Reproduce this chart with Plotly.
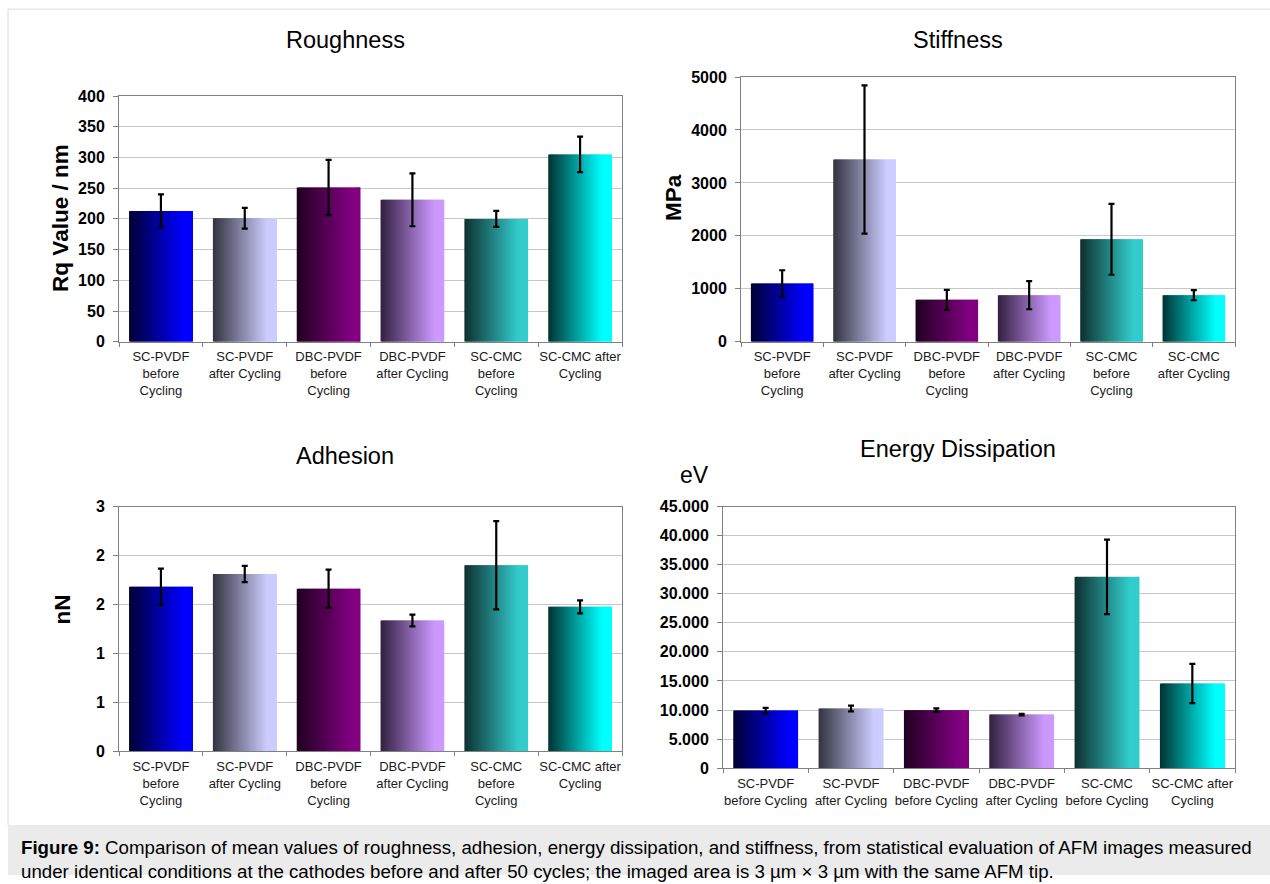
import plotly.graph_objects as go

# ---------------- data ----------------
labels_rough = ["SC-PVDF<br>before<br>Cycling", "SC-PVDF<br>after Cycling", "DBC-PVDF<br>before<br>Cycling",
                "DBC-PVDF<br>after Cycling", "SC-CMC<br>before<br>Cycling", "SC-CMC after<br>Cycling"]
labels_stiff = ["SC-PVDF<br>before<br>Cycling", "SC-PVDF<br>after Cycling", "DBC-PVDF<br>before<br>Cycling",
                "DBC-PVDF<br>after Cycling", "SC-CMC<br>before<br>Cycling", "SC-CMC<br>after Cycling"]
labels_adh = labels_rough
labels_energy = ["SC-PVDF<br>before Cycling", "SC-PVDF<br>after Cycling", "DBC-PVDF<br>before Cycling",
                 "DBC-PVDF<br>after Cycling", "SC-CMC<br>before Cycling", "SC-CMC after<br>Cycling"]

roughness = [213, 201, 251, 231, 200, 305]
roughness_err = [27, 17, 45, 43, 13, 29]

stiffness = [1100, 3442, 791, 879, 1935, 879]
stiffness_err = [250, 1400, 190, 265, 670, 95]

adhesion = [1.68, 1.81, 1.66, 1.335, 1.90, 1.475]
adhesion_err = [0.185, 0.083, 0.195, 0.06, 0.45, 0.066]

energy = [9917, 10261, 9975, 9229, 32905, 14561]
energy_err = [450, 500, 300, 130, 6400, 3380]

adh_tickvals = [0, 0.5, 1, 1.5, 2, 2.5]
adh_ticktext = ["0", "1", "1", "2", "2", "3"]
energy_tickvals = [0, 5000, 10000, 15000, 20000, 25000, 30000, 35000, 40000, 45000]
energy_ticktext = ["0", "5.000", "10.000", "15.000", "20.000", "25.000", "30.000", "35.000", "40.000", "45.000"]

# gradient colours per category: (dark left, bright right)
dark_cols = [(0, 0, 51), (51, 51, 64), (32, 0, 32), (51, 32, 64), (15, 48, 48), (0, 51, 51)]
bright_cols = [(0, 0, 255), (204, 204, 255), (128, 0, 128), (204, 153, 255), (51, 204, 204), (0, 255, 255)]

# ---------------- layout helpers ----------------
W, H = 1270, 884
FONT = "Liberation Sans, Arial, sans-serif"
VS, VO = 0.982, 8.0   # observed vertical mapping of the capture


def px(x):
    return x / W


def py(y):
    return 1 - (y / VS - VO) / H


panels = [
    # (values, errs, labels, xpx, ypx, yrange, tickvals, ticktext)
    (roughness, roughness_err, labels_rough, (119, 622), (96, 342), (0, 400), list(range(0, 401, 50)), None),
    (stiffness, stiffness_err, labels_stiff, (741, 1235), (77, 342), (0, 5000), list(range(0, 5001, 1000)), None),
    (adhesion, adhesion_err, labels_adh, (119, 622), (507, 752), (0, 2.5), adh_tickvals, adh_ticktext),
    (energy, energy_err, labels_energy, (723, 1235), (507, 769), (0, 45000), energy_tickvals, energy_ticktext),
]

fig = go.Figure()

NS = 40
BW = 0.76


def mix(a, b, t):
    return "rgb(%d,%d,%d)" % tuple(round(a[i] + (b[i] - a[i]) * t) for i in range(3))


for k, (vals, errs, labels, xr, yr, yrng, tv, tt) in enumerate(panels):
    ax = "" if k == 0 else str(k + 1)
    xa, ya = "x" + ax, "y" + ax
    step = BW / NS
    for s in range(NS):
        off = -BW / 2 + s * step
        wid = min(step * 1.8, BW / 2 - off)
        t = min(1.0, (s + 0.5) / NS / 0.85)
        cols = [mix(dark_cols[c], bright_cols[c], t) for c in range(6)]
        fig.add_trace(go.Bar(x=labels, y=vals, width=[wid] * 6, offset=[off] * 6,
                             marker=dict(color=cols, line=dict(width=0)),
                             xaxis=xa, yaxis=ya, showlegend=False, hoverinfo="skip"))
    fig.add_trace(go.Scatter(x=labels, y=vals, mode="markers",
                             marker=dict(size=1, color="rgba(0,0,0,0)"),
                             error_y=dict(type="data", array=errs, color="black", thickness=2.2, width=3),
                             xaxis=xa, yaxis=ya, showlegend=False))
    xkey = "xaxis" + ax
    ykey = "yaxis" + ax
    fig.layout[xkey] = dict(domain=[px(xr[0]), px(xr[1])], anchor=ya, type="category",
                            range=[-0.5, 5.5], tickson="boundaries", ticks="outside", ticklen=4,
                            tickangle=0, tickcolor="#808080", showline=True, linecolor="#808080",
                            linewidth=1, mirror=True, showgrid=False, zeroline=False,
                            ticklabelstandoff=3,
                            tickfont=dict(family=FONT, size=13, color="#1a1a1a"))
    ydict = dict(domain=[py(yr[1]), py(yr[0])], anchor=xa, range=list(yrng), tickvals=tv,
                 ticks="outside", ticklen=5, tickcolor="#808080", showline=True, linecolor="#808080",
                 linewidth=1, mirror=True, showgrid=True, gridcolor="#c8c8c8", gridwidth=1,
                 zeroline=False, ticklabelstandoff=5,
                 tickfont=dict(family=FONT, size=16, color="black", weight="bold"))
    if tt is not None:
        ydict["ticktext"] = tt
    fig.layout[ykey] = ydict

annotations = [
    dict(text="Roughness", x=px(345), y=py(40), font=dict(size=23.5)),
    dict(text="Stiffness", x=px(958), y=py(40), font=dict(size=23.5)),
    dict(text="Adhesion", x=px(345), y=py(456), font=dict(size=23.5)),
    dict(text="Energy Dissipation", x=px(958), y=py(449), font=dict(size=23.5)),
    dict(text="<b>Rq Value / nm</b>", x=px(61), y=py(218), textangle=-90, font=dict(size=22.5)),
    dict(text="<b>MPa</b>", x=px(674), y=py(198), textangle=-90, font=dict(size=22.5)),
    dict(text="<b>nN</b>", x=px(62), y=py(610), textangle=-90, font=dict(size=22.5)),
    dict(text="eV", x=px(694), y=py(475), font=dict(size=23)),
]
for a in annotations:
    a.update(xref="paper", yref="paper", showarrow=False, xanchor="center", yanchor="middle")
    a["font"].update(family=FONT, color="black")

annotations.append(dict(
    text="<b>Figure 9:</b> Comparison of mean values of roughness, adhesion, energy dissipation, and stiffness, from statistical evaluation of AFM images measured"
         "<br>under identical conditions at the cathodes before and after 50 cycles; the imaged area is 3 µm × 3 µm with the same AFM tip.",
    x=px(19), y=py(860.5), xref="paper", yref="paper", showarrow=False, xanchor="left", yanchor="middle",
    align="left", font=dict(family=FONT, size=18.7, color="black")))

shapes = [
    dict(type="rect", xref="paper", yref="paper", x0=px(8), x1=1.0, y0=0, y1=py(826),
         fillcolor="#ebebeb", line=dict(width=0), layer="below"),
    dict(type="line", xref="paper", yref="paper", x0=px(8), x1=1.0, y0=py(9), y1=py(9),
         line=dict(color="#dcdcdc", width=1)),
    dict(type="line", xref="paper", yref="paper", x0=px(8), x1=px(8), y0=py(9), y1=py(826),
         line=dict(color="#dcdcdc", width=1)),
]

fig.update_layout(width=W, height=H, margin=dict(l=0, r=0, t=0, b=0),
                  paper_bgcolor="white", plot_bgcolor="white", barmode="overlay",
                  annotations=annotations, shapes=shapes, showlegend=False,
                  font=dict(family=FONT))

fig.write_html("out.html", config={"displayModeBar": False},
               post_script="document.body.style.margin='0px';document.body.style.overflow='hidden';")
